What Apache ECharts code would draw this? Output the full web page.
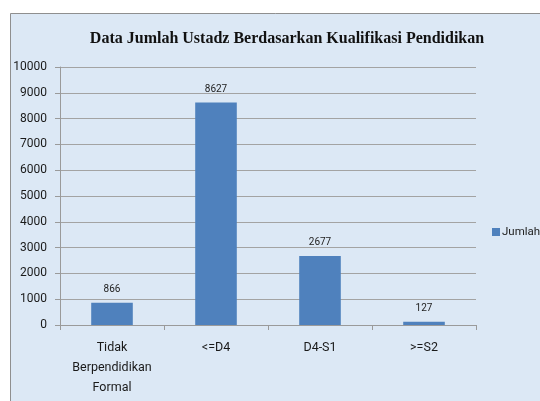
<!DOCTYPE html>
<html>
<head>
<meta charset="UTF-8">
<title>Data Jumlah Ustadz</title>
<script src="https://cdn.jsdelivr.net/npm/echarts@6/dist/echarts.min.js"></script>
<style>
  html, body { margin: 0; padding: 0; background: #ffffff; }
  #main { width: 540px; height: 401px; }
</style>
</head>
<body>
<div id="main"></div>
<script>
var kategori = ['Tidak\nBerpendidikan\nFormal', '<=D4', 'D4-S1', '>=S2'];
var jumlah = [866, 8627, 2677, 127];
var yTicks = [0, 1000, 2000, 3000, 4000, 5000, 6000, 7000, 8000, 9000, 10000];

var fontLabel = "Roboto, 'Open Sans', sans-serif";

var chart = echarts.init(document.getElementById('main'));
chart.setOption({
  animation: false,
  graphic: [{
    type: 'rect',
    z: -10,
    shape: { x: 10.5, y: 13.5, width: 600, height: 500 },
    style: { fill: '#dce8f5', stroke: '#8f8f8f', lineWidth: 1 }
  }],
  title: {
    text: 'Data Jumlah Ustadz Berdasarkan Kualifikasi Pendidikan',
    left: 282,
    textAlign: 'center',
    top: 26,
    textStyle: {
      fontFamily: "'Liberation Serif', serif",
      fontWeight: 'bold',
      fontSize: 16,
      color: '#111111'
    }
  },
  legend: {
    orient: 'vertical',
    left: 487,
    top: 221,
    itemWidth: 8,
    itemHeight: 8,
    itemGap: 3,
    icon: 'rect',
    textStyle: { fontFamily: fontLabel, fontSize: 11.5, color: '#222222', padding: [0, 0, 0, -3] },
    data: ['Jumlah']
  },
  grid: { left: 60, right: 64, top: 67, bottom: 76 },
  xAxis: {
    type: 'category',
    data: kategori,
    axisLine: { lineStyle: { color: '#9a9a9a' } },
    axisTick: { show: true, length: 5, lineStyle: { color: '#9a9a9a' } },
    axisLabel: {
      interval: 0,
      margin: 13,
      fontFamily: fontLabel,
      fontSize: 12.5,
      lineHeight: 20,
      color: '#1a1a1a'
    }
  },
  yAxis: {
    type: 'value',
    min: yTicks[0],
    max: yTicks[yTicks.length - 1],
    interval: 1000,
    axisLine: { show: true, lineStyle: { color: '#9a9a9a' } },
    axisTick: { show: true, length: 5, lineStyle: { color: '#9a9a9a' } },
    splitLine: { lineStyle: { color: '#a3a3a3' } },
    axisLabel: {
      margin: 13,
      fontFamily: fontLabel,
      fontSize: 12,
      color: '#1a1a1a',
      formatter: function (v) { return String(v); }
    }
  },
  series: [{
    name: 'Jumlah',
    type: 'bar',
    data: jumlah,
    barWidth: '40%',
    itemStyle: { color: '#4f81bd' },
    label: {
      show: true,
      position: 'top',
      distance: 8,
      fontFamily: fontLabel,
      fontSize: 10,
      color: '#222222'
    }
  }]
});
</script>
</body>
</html>
